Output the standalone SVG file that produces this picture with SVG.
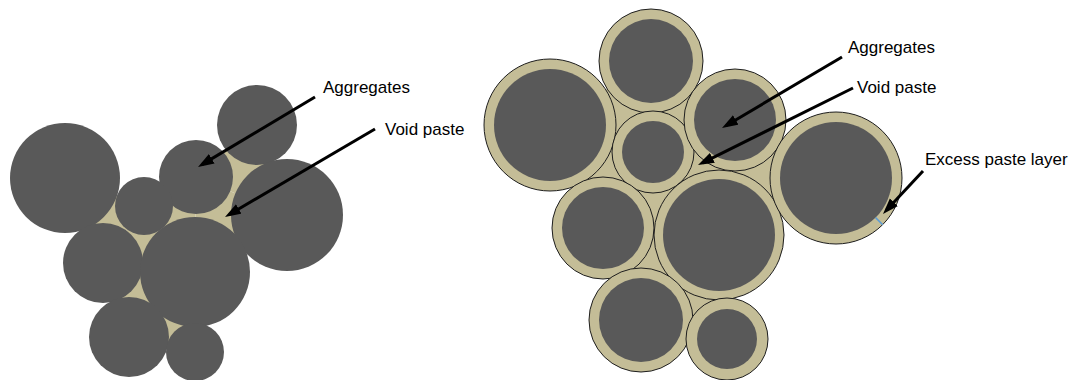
<svg xmlns="http://www.w3.org/2000/svg" width="1075" height="380" viewBox="0 0 1075 380">
  <style>
    .paste { fill: #c4bd97; }
    .agg { fill: #595959; }
    .coat { fill: #c4bd97; stroke: #1e1e1e; stroke-width: 1; }
    .label { font-family: "Liberation Sans", Arial, sans-serif; font-size: 17px; fill: #000; }
    .arrow { stroke: #000; stroke-width: 3; fill: none; marker-end: url(#head); }
  </style>
  <defs>
    <marker id="head" markerUnits="userSpaceOnUse" markerWidth="17" markerHeight="12" refX="11" refY="6" orient="auto">
      <path d="M0,0.5 L16,6 L0,11.5 Z" fill="#000"/>
    </marker>
  </defs>

  <rect width="1075" height="380" fill="#ffffff"/>

  <!-- Uncoated packing: aggregates with void paste in the gaps -->
  <g id="packing-uncoated">
    <g id="void-paste-left" class="paste">
      <polygon points="65,178 144,206 103,263"/>
      <polygon points="144,206 103,263 195,272"/>
      <polygon points="144,206 196,177 195,272"/>
      <polygon points="196,177 287,215 195,272"/>
      <polygon points="257,125 196,177 287,215"/>
      <polygon points="103,263 195,272 129,337"/>
      <polygon points="195,272 129,337 195,352"/>
    </g>
    <g id="aggregates-left" class="agg">
      <circle cx="65" cy="178" r="55"/>
      <circle cx="257" cy="125" r="40"/>
      <circle cx="196" cy="177" r="37"/>
      <circle cx="287" cy="215" r="56"/>
      <circle cx="144" cy="206" r="29"/>
      <circle cx="103" cy="263" r="40"/>
      <circle cx="195" cy="272" r="55"/>
      <circle cx="129" cy="337" r="40"/>
      <circle cx="195" cy="352" r="29"/>
    </g>
  </g>

  <!-- Coated packing: each aggregate wrapped in an excess paste layer -->
  <g id="packing-coated">
    <g id="void-paste-right" class="paste">
      <polygon points="550,125 651,61 653,152"/>
      <polygon points="651,61 653,152 735,120"/>
      <polygon points="653,152 735,120 719,235"/>
      <polygon points="550,125 653,152 603,228"/>
      <polygon points="653,152 603,228 719,235"/>
      <polygon points="603,228 719,235 641,320"/>
      <polygon points="719,235 641,320 727,339"/>
      <polygon points="735,120 719,235 836,178"/>
    </g>
    <g id="paste-layers">
      <circle class="coat" cx="550" cy="125" r="66"/>
      <circle class="coat" cx="651" cy="61" r="52"/>
      <circle class="coat" cx="653" cy="152" r="41"/>
      <circle class="coat" cx="735" cy="120" r="51"/>
      <circle class="coat" cx="603" cy="228" r="51"/>
      <circle class="coat" cx="719" cy="235" r="65"/>
      <circle class="coat" cx="641" cy="320" r="52"/>
      <circle class="coat" cx="727" cy="339" r="41"/>
      <circle class="coat" cx="836" cy="178" r="66"/>
    </g>
    <g id="aggregates-right" class="agg">
      <circle cx="550" cy="125" r="56"/>
      <circle cx="651" cy="61" r="42"/>
      <circle cx="653" cy="152" r="31"/>
      <circle cx="735" cy="120" r="41"/>
      <circle cx="603" cy="228" r="41"/>
      <circle cx="719" cy="235" r="56"/>
      <circle cx="641" cy="320" r="42"/>
      <circle cx="727" cy="339" r="30"/>
      <circle cx="836" cy="178" r="56"/>
    </g>
    <!-- thickness marker across the paste layer -->
    <line id="layer-thickness" x1="875.6" y1="217.6" x2="882.7" y2="224.7" stroke="#5b9bd5" stroke-width="1.5"/>
  </g>

  <!-- Leader arrows -->
  <g id="connectors">
    <line class="arrow" x1="315" y1="97" x2="202.3" y2="164.4"/>
    <line class="arrow" x1="375" y1="129" x2="229.3" y2="214.5"/>
    <line class="arrow" x1="842" y1="57" x2="726.3" y2="125.5"/>
    <line class="arrow" x1="853" y1="88" x2="702.5" y2="162.8"/>
    <line class="arrow" x1="923" y1="171" x2="886.4" y2="210.3"/>
  </g>

  <g id="label-aggregates-left"><text class="label" x="323" y="93">Aggregates</text></g>
  <g id="label-void-left"><text class="label" x="385" y="135">Void paste</text></g>
  <g id="label-aggregates-right"><text class="label" x="848" y="53">Aggregates</text></g>
  <g id="label-void-right"><text class="label" x="857" y="93">Void paste</text></g>
  <g id="label-excess"><text class="label" x="925" y="165">Excess paste layer</text></g>
</svg>
